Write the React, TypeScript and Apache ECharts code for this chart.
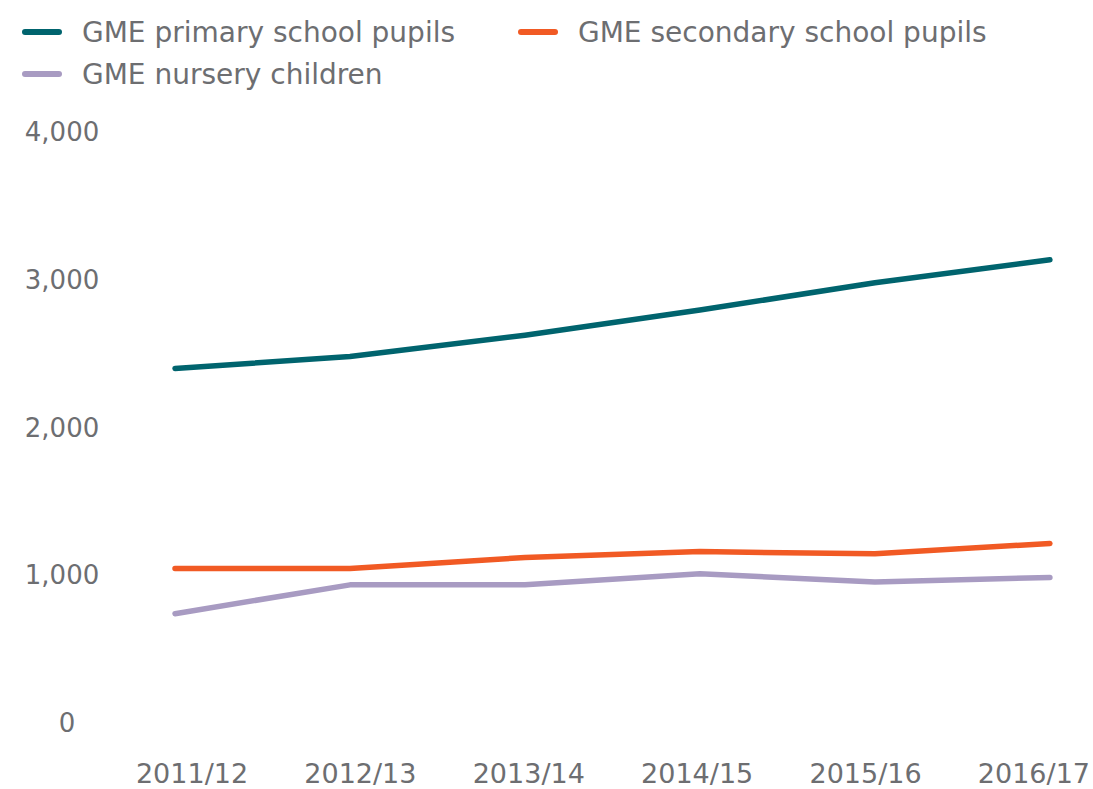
import React, { useEffect, useRef } from "react";
import * as echarts from "echarts";

const categories = ["2011/12", "2012/13", "2013/14", "2014/15", "2015/16", "2016/17"];
const primaryPupils = [2400, 2480, 2625, 2795, 2980, 3135];
const secondaryPupils = [1045, 1045, 1120, 1160, 1145, 1215];
const nurseryChildren = [740, 935, 935, 1010, 955, 985];
const seriesNames = ["GME primary school pupils", "GME secondary school pupils", "GME nursery children"];
const colors = ["#00646e", "#f15a24", "#a89bc2"];
const labelPositions = [0, 1, 2, 3, 4, 5];

const FONT = "'DejaVu Sans', sans-serif";
const TEXT = "#6d6e71";
const ICON = "path://M3,0 H37 A3,3 0 0 1 37,6 H3 A3,3 0 0 1 3,0 Z";

export default function App() {
  const ref = useRef<HTMLDivElement>(null);
  useEffect(() => {
    if (!ref.current) return;
    const chart = echarts.init(ref.current, undefined, { renderer: "svg" });
    const legendBase = {
      orient: "horizontal",
      icon: ICON,
      itemWidth: 40,
      itemHeight: 6,
      textStyle: { color: TEXT, fontFamily: FONT, fontSize: 28, padding: [0, 0, 0, 15] },
    };
    chart.setOption({
      animation: false,
      backgroundColor: "#ffffff",
      color: colors,
      legend: [
        { ...legendBase, data: [seriesNames[0]], left: 17, top: 13 },
        { ...legendBase, data: [seriesNames[1]], left: 513, top: 13 },
        { ...legendBase, data: [seriesNames[2]], left: 17, top: 55 },
      ],
      grid: { left: 175, right: 43, top: 132, bottom: 66 },
      xAxis: [
        {
          type: "category",
          data: categories,
          boundaryGap: false,
          axisLine: { show: false },
          axisTick: { show: false },
          axisLabel: { show: false },
          splitLine: { show: false },
        },
        {
          type: "value",
          min: -0.101,
          max: 5.095,
          position: "bottom",
          axisLine: { show: false },
          axisTick: { show: false },
          splitLine: { show: false },
          axisLabel: {
            customValues: labelPositions,
            formatter: (v: number) => categories[Math.round(v)] ?? "",
            color: TEXT,
            fontFamily: FONT,
            fontSize: 27,
            lineHeight: 26,
            margin: 37,
          },
        },
      ],
      yAxis: {
        type: "value",
        min: 0,
        max: 4000,
        interval: 1000,
        axisLine: { show: false },
        axisTick: { show: false },
        splitLine: { show: false },
        axisLabel: {
          color: TEXT,
          fontFamily: FONT,
          fontSize: 26,
          align: "center",
          margin: 113,
          formatter: (v: number) => (v === 0 ? "{z|0}" : v.toLocaleString("en-US")),
          rich: {
            z: { color: TEXT, fontFamily: FONT, fontSize: 26, padding: [0, 0, 0, 10] },
          },
        },
      },
      series: [primaryPupils, secondaryPupils, nurseryChildren].map((d, i) => ({
        name: seriesNames[i],
        type: "line",
        data: d,
        xAxisIndex: 0,
        showSymbol: false,
        symbol: "none",
        lineStyle: { width: 5.5, color: colors[i], cap: "round", join: "round" },
        itemStyle: { color: colors[i] },
      })),
    });
    return () => chart.dispose();
  }, []);
  return <div ref={ref} style={{ width: 1093, height: 789, position: "absolute", left: 0, top: 0 }} />;
}
